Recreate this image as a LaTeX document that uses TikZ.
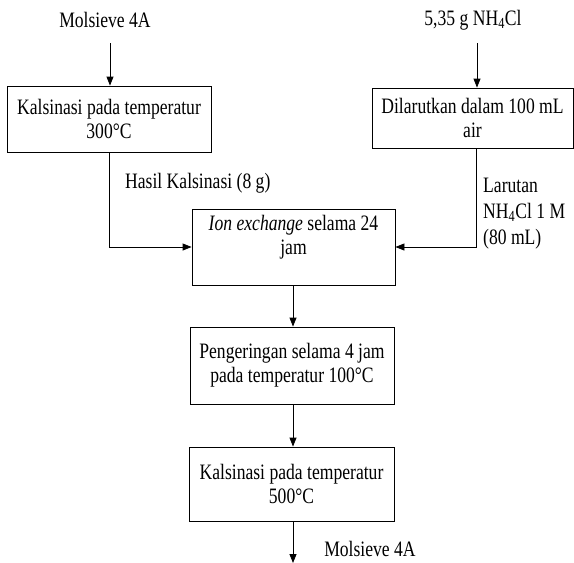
\documentclass[tikz,border=0pt]{standalone}
\usepackage{fontspec}
\setmainfont[FakeStretch=0.8]{Liberation Serif}
\usetikzlibrary{arrows.meta,calc}
\begin{document}
\begin{tikzpicture}[x=1pt,y=1pt,
  txt/.style={font=\fontsize{22}{24}\selectfont, inner sep=0pt, align=center},
  box/.style={draw, line width=0.8pt, inner sep=0pt, align=center, font=\fontsize{22}{24}\selectfont},
  conn/.style={line width=0.8pt, -{Triangle[length=9pt,width=7pt]}},
  plain/.style={line width=0.8pt}]
\useasboundingbox (0,0) rectangle (574,-563);
% inputs
\node[txt] (m1) at (105,-20) {Molsieve 4A};
\node[txt] (n1) at (473,-20) {5,35 g NH\textsubscript{4}Cl};
\coordinate (m1a) at (110,-43);
\coordinate (n1a) at (477,-43);
% boxes
\node[box, minimum width=204, minimum height=66] (b1) at (109,-119) {Kalsinasi pada temperatur\\300°C};
\node[box, minimum width=201, minimum height=60] (b2) at (472.5,-118) {Dilarutkan dalam 100 mL\\air};
\node[box, minimum width=203, minimum height=76] (b3) at (293.5,-247) {};
\node[txt] (b3t) at (293.5,-237) {\textit{Ion exchange} selama 24\\jam};
\node[box, minimum width=204, minimum height=77] (b4) at (292,-365.5) {Pengeringan selama 4 jam\\pada temperatur 100°C};
\node[box, minimum width=205, minimum height=74] (b5) at (291.5,-484) {Kalsinasi pada temperatur\\500°C};
\coordinate (endp) at (293,-563);
% labels
\node[txt, anchor=west] (l1) at (125,-183) {Hasil Kalsinasi (8 g)};
\node[txt, anchor=west, align=left, font=\fontsize{22}{26}\selectfont] (l2) at (483,-214) {Larutan\\NH\textsubscript{4}Cl 1 M\\(80 mL)};
\node[txt] (m2) at (370,-549) {Molsieve 4A};
% connectors
\draw[conn] (m1a) -- (m1a |- b1.north);
\draw[conn] (n1a) -- (n1a |- b2.north);
\draw[conn] (b1.south) |- (b3.west);
\coordinate (b2o) at ($(b2.south)+(3.5,0)$);
\draw[conn] (b2o) |- (b3.east);
\coordinate (c34) at (293,-285);
\coordinate (c45) at (293,-404);
\coordinate (c5e) at (293,-521);
\draw[conn] (c34) -- (c34 |- b4.north);
\draw[conn] (c45) -- (c45 |- b5.north);
\draw[conn] (c5e) -- (endp);
\end{tikzpicture}
\end{document}
